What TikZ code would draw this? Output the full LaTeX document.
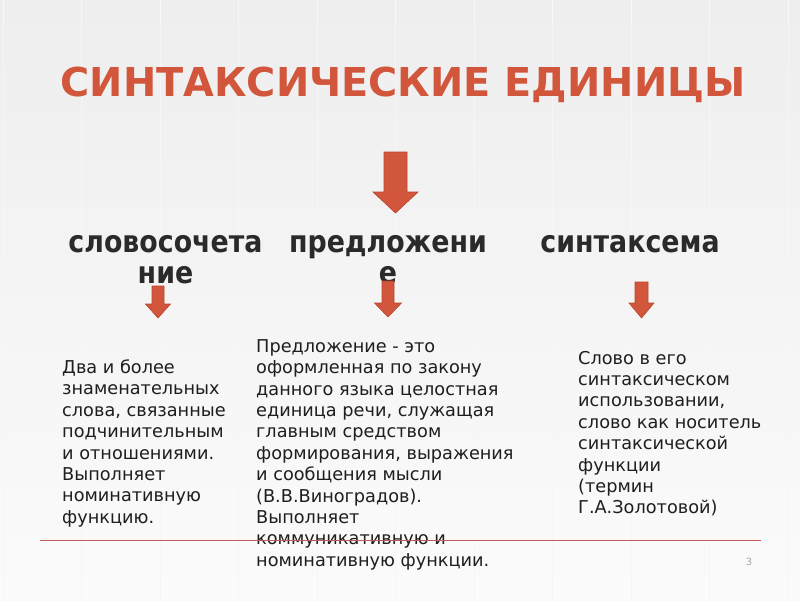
\documentclass[tikz,border=0pt]{standalone}
\usepackage{fontspec}
\setmainfont{DejaVu Sans}
\newfontfamily\headfont{DejaVu Sans}[FakeStretch=0.88]
\definecolor{accent}{HTML}{D2563C}
\definecolor{accentedge}{HTML}{B8452E}
\definecolor{headgray}{HTML}{2A2A2A}
\definecolor{bodytext}{HTML}{1E1E1E}
\definecolor{rulered}{HTML}{C4585A}
\definecolor{bgtop}{HTML}{EEEEEE}
\definecolor{bgbot}{HTML}{FBFBFB}
\newcommand{\blockarrow}[6]{%
  % #1 cx, #2 top, #3 shaft width, #4 head base y, #5 head width, #6 tip y
  \filldraw[arrowstyle] ({#1-#3/2},#2) -- ({#1+#3/2},#2) -- ({#1+#3/2},#4)
    -- ({#1+#5/2},#4) -- (#1,#6) -- ({#1-#5/2},#4) -- ({#1-#3/2},#4) -- cycle;}
\begin{document}
\begin{tikzpicture}[x=1pt,y=-1pt,
  arrowstyle/.style={fill=accent,draw=accentedge,line width=0.6pt,line join=miter},
  titletext/.style={font=\fontsize{39.8}{44}\selectfont\bfseries,text=accent,inner sep=0pt},
  headtext/.style={font=\headfont\bfseries\fontsize{30.5}{31}\selectfont,text=headgray,align=center,inner sep=0pt},
  bodybox/.style={font=\fontsize{17.7}{21.4}\selectfont,text=bodytext,align=left,inner sep=0pt},
  rulestyle/.style={draw=rulered,line width=0.9pt}]
\useasboundingbox (0,0) rectangle (800,600);
\shade[top color=bgtop,bottom color=bgbot] (0,0) rectangle (800,600);
% faint vertical lattice
\foreach \xx in {3,81.5,160,238.5,317,395.5,474,552.5,631,709.5,788}
  \draw[white!93!gray,line width=0.5pt] (\xx,0) -- (\xx,600);

\node[titletext,anchor=base] (title) at (403,96) {СИНТАКСИЧЕСКИЕ ЕДИНИЦЫ};

\blockarrow{395.5}{152}{23}{192}{45}{213}

\node[headtext,anchor=north] (h1) at (165.5,235.3) {словосочета\\ние};
\node[headtext,anchor=north] (h2) at (388,235.3) {предложени\\е};
\node[headtext,anchor=north] (h3) at (630,235.3) {синтаксема};

\blockarrow{158}{286}{12}{304}{25}{318}
\blockarrow{388}{281}{12}{303}{27}{317}
\blockarrow{641.5}{282}{13}{303}{25}{318}

\node[bodybox,anchor=north west] (d1) at (62,359.5) {Два и более\\знаменательных\\слова, связанные\\подчинительным\\и отношениями.\\Выполняет\\номинативную\\функцию.};
\node[bodybox,anchor=north west] (d2) at (256,339.2) {Предложение - это\\оформленная по закону\\данного языка целостная\\единица речи, служащая\\главным средством\\формирования, выражения\\и сообщения мысли\\(В.В.Виноградов).\\Выполняет\\коммуникативную и\\номинативную функции.};
\node[bodybox,anchor=north west] (d3) at (578,350.8) {Слово в его\\синтаксическом\\использовании,\\слово как носитель\\синтаксической\\функции\\(термин\\Г.А.Золотовой)};

\coordinate (ruleL) at (40,540);
\coordinate (ruleR) at (761,540);
\draw[rulestyle] (ruleL) -- (ruleR);

\node[font=\fontsize{10}{12}\selectfont,text=gray!70,anchor=base,inner sep=0pt] (pagenum) at (749,565) {3};
\end{tikzpicture}
\end{document}
